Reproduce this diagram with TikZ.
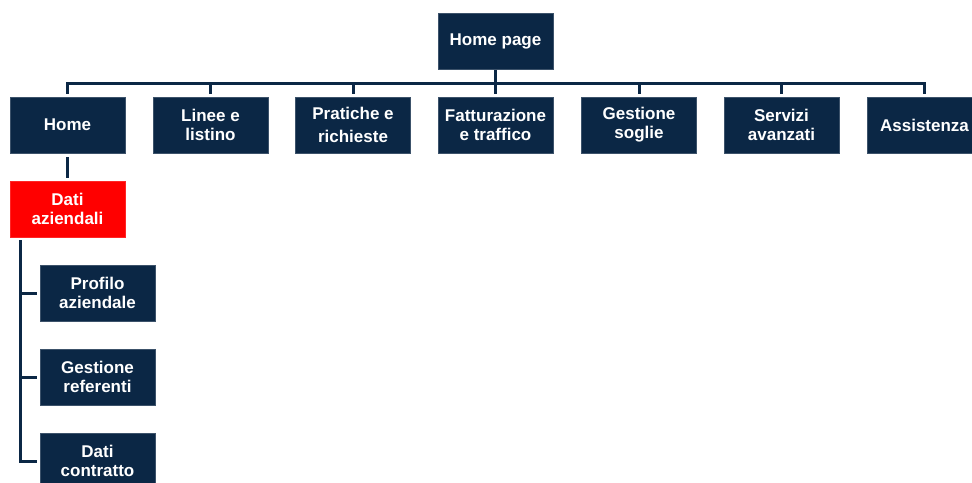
\documentclass[tikz,border=0pt]{standalone}
\usepackage{fontspec}
\setmainfont{Liberation Sans}
\definecolor{navy}{HTML}{0B2745}
\definecolor{redbox}{HTML}{FF0000}
\begin{document}
\begin{tikzpicture}[x=1pt,y=-1pt,
  box/.style={fill=navy,draw=navy!80!white,line width=0.6pt,minimum width=115pt,minimum height=56pt,
    inner sep=0pt,text=white,font=\fontsize{17}{19}\selectfont\bfseries,align=center},
  redb/.style={box,fill=redbox,draw=redbox!85!white},
  conn/.style={draw=navy,line width=3pt}]
\useasboundingbox (0,0) rectangle (972,482);
\begin{scope}
\clip (0,0) rectangle (972,482);
\node[box] (hp) at (495.5,41) {Home page};
\node[box] (home) at (67.5,125) {Home};
\node[box] (lin) at (210.5,125) {Linee e\\listino};
\node[box] (pra) at (353,125) {Pratiche e\\[4pt]richieste};
\node[box] (fat) at (495.5,125) {Fatturazione\\e traffico};
\node[box] (ges) at (639,125) {Gestione\\soglie};
\node[box] (ser) at (781.5,125) {Servizi\\avanzati};
\node[box] (ass) at (924.5,125) {Assistenza};
\node[redb] (dati) at (67.5,209) {Dati\\aziendali};
\node[box] (pro) at (97.5,293) {Profilo\\aziendale};
\node[box] (ref) at (97.5,377) {Gestione\\referenti};
\node[box] (con) at (97.5,461) {Dati\\contratto};
\coordinate (bus) at (495.5,83);
\draw[conn] ([yshift=-1pt]hp.south) -- (bus);
\draw[conn] ([yshift=3pt]home.north) |- (bus -| ass.north) -- ([yshift=3pt]ass.north);
\foreach \n in {lin,pra,fat,ges,ser}
  \draw[conn] ([yshift=3pt]\n.north) -- (bus -| \n.north);
\draw[conn] ([yshift=-4pt]home.south) -- ([yshift=3pt]dati.north);
\coordinate (trunk) at (20,240);
\draw[conn] (trunk) |- ([xshift=-3pt]con.west);
\draw[conn] (trunk |- pro.west) -- ([xshift=-3pt]pro.west);
\draw[conn] (trunk |- ref.west) -- ([xshift=-3pt]ref.west);
\end{scope}
\end{tikzpicture}
\end{document}
